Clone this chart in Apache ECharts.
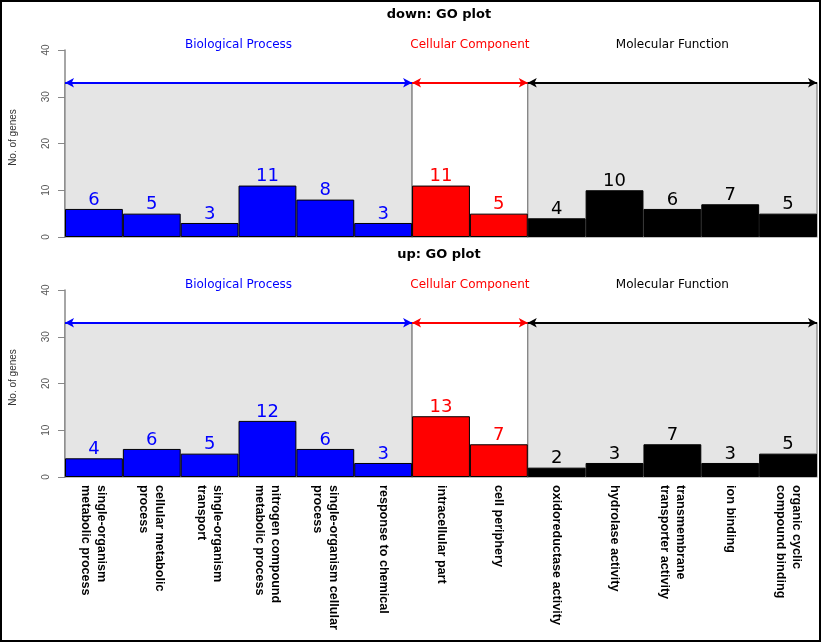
<!DOCTYPE html>
<html>
<head>
<meta charset="utf-8">
<script src="https://cdn.jsdelivr.net/npm/echarts@6/dist/echarts.min.js"></script>
<style>
html,body{margin:0;padding:0;background:#fff;}
#chart{width:823px;height:643px;}
</style>
</head>
<body>
<div id="chart"></div>
<script>
const categories = [
  'single-organism\nmetabolic process',
  'cellular metabolic\nprocess',
  'single-organism\ntransport',
  'nitrogen compound\nmetabolic process',
  'single-organism cellular\nprocess',
  'response to chemical',
  'intracellular part',
  'cell periphery',
  'oxidoreductase activity',
  'hydrolase activity',
  'transmembrane\ntransporter activity',
  'ion binding',
  'organic cyclic\ncompound binding'
];
const downCounts = [6, 5, 3, 11, 8, 3, 11, 5, 4, 10, 6, 7, 5];
const upCounts   = [4, 6, 5, 12, 6, 3, 13, 7, 2, 3, 7, 3, 5];
const groupNames = ['Biological Process', 'Cellular Component', 'Molecular Function'];
const groupSizes = [6, 2, 5];
const groupColors = ['#0000ff', '#ff0000', '#000000'];
const groupFills = ['#e5e5e5', '#ffffff', '#e5e5e5'];
const panelTitles = ['down: GO plot', 'up: GO plot'];
const yMin = 0, yMax = 40, yStep = 10;
const arrowLevel = 33;

const groupOf = [];
groupSizes.forEach((n, g) => { for (let k = 0; k < n; k++) groupOf.push(g); });
const spans = [];
let acc = 0;
groupSizes.forEach(n => { spans.push([acc, acc + n]); acc += n; });
const nCat = categories.length;

const grids = [
  {left: 62, right: 6, top: 50, height: 187},
  {left: 62, right: 6, top: 290, height: 187}
];

function barData(values) {
  return values.map((v, i) => ({
    value: v,
    itemStyle: {color: groupColors[groupOf[i]]},
    label: {color: groupColors[groupOf[i]]}
  }));
}

const xAxes = [], yAxes = [], series = [];
[downCounts, upCounts].forEach((vals, p) => {
  xAxes.push({
    type: 'category', gridIndex: p, data: categories, boundaryGap: true,
    axisLine: {show: false}, axisTick: {show: false},
    axisLabel: p === 1 ? {
      show: true, rotate: -90, interval: 0, margin: 8,
      fontFamily: 'Liberation Sans, Arial, sans-serif', fontWeight: 'bold',
      fontSize: 12.6, lineHeight: 16, color: '#000'
    } : {show: false}
  });
  yAxes.push({
    type: 'value', gridIndex: p, min: yMin, max: yMax, interval: yStep,
    name: 'No. of genes', nameLocation: 'middle', nameGap: 47, nameRotate: 90,
    nameTextStyle: {fontFamily: 'Liberation Sans Narrow, Liberation Sans, Arial, sans-serif', fontSize: 10, color: '#333', padding: [0, 0, 0, 12]},
    axisLine: {show: true, lineStyle: {color: '#888', width: 1.5}},
    axisTick: {show: true, length: 7, lineStyle: {color: '#888'}},
    axisLabel: {rotate: 90, margin: 14, fontSize: 10, color: '#555', fontFamily: 'Liberation Sans, Arial, sans-serif'},
    splitLine: {show: false}
  });
});
// hidden value axes for group spans
[0, 1].forEach(p => {
  xAxes.push({type: 'value', gridIndex: p, min: 0, max: nCat, show: false});
});

[downCounts, upCounts].forEach((vals, p) => {
  // backgrounds + group labels
  series.push({
    type: 'line', xAxisIndex: 2 + p, yAxisIndex: p, data: [[0, 0]], clip: false,
    showSymbol: false, lineStyle: {opacity: 0}, silent: true, z: 1,
    markArea: {
      silent: true,
      data: spans.map((s, g) => [
        {coord: [s[0], 0], name: groupNames[g],
          itemStyle: {color: groupFills[g], borderColor: '#808080', borderWidth: 1.2},
          label: {show: true, position: 'top', distance: 31, color: groupColors[g],
            fontSize: 12, fontFamily: 'DejaVu Sans, sans-serif'}},
        {coord: [s[1], arrowLevel]}
      ])
    }
  });
  // bars
  series.push({
    type: 'bar', xAxisIndex: p, yAxisIndex: p, data: barData(vals),
    barCategoryGap: '0%', z: 2,
    itemStyle: {borderColor: '#000', borderWidth: 1},
    label: {show: true, position: 'top', distance: 0, fontSize: 18, fontFamily: 'DejaVu Sans, sans-serif'}
  });
  // arrows
  series.push({
    type: 'line', xAxisIndex: 2 + p, yAxisIndex: p, data: [[0, 0]], clip: false,
    showSymbol: false, lineStyle: {opacity: 0}, silent: true, z: 3,
    markLine: {
      silent: true, symbol: ['arrow', 'arrow'], symbolSize: [7, 9],
      label: {show: false},
      data: spans.map((s, g) => [
        {coord: [s[0], arrowLevel], lineStyle: {color: groupColors[g], width: 2, type: 'solid'}, itemStyle: {color: groupColors[g]}},
        {coord: [s[1], arrowLevel]}
      ])
    }
  });
});

const chart = echarts.init(document.getElementById('chart'), null, {renderer: 'canvas'});
chart.setOption({
  animation: false,
  backgroundColor: '#fff',
  grid: grids,
  xAxis: xAxes,
  yAxis: yAxes,
  series: series,
  graphic: [
    {type: 'rect', shape: {x: 1, y: 1, width: 819, height: 640}, style: {fill: 'none', stroke: '#000', lineWidth: 2}, z: 10},
    {type: 'text', x: 439, y: 8, style: {text: panelTitles[0], textAlign: 'center', font: 'bold 13px DejaVu Sans', fill: '#000'}},
    {type: 'text', x: 439, y: 248, style: {text: panelTitles[1], textAlign: 'center', font: 'bold 13px DejaVu Sans', fill: '#000'}}
  ]
});
</script>
</body>
</html>
